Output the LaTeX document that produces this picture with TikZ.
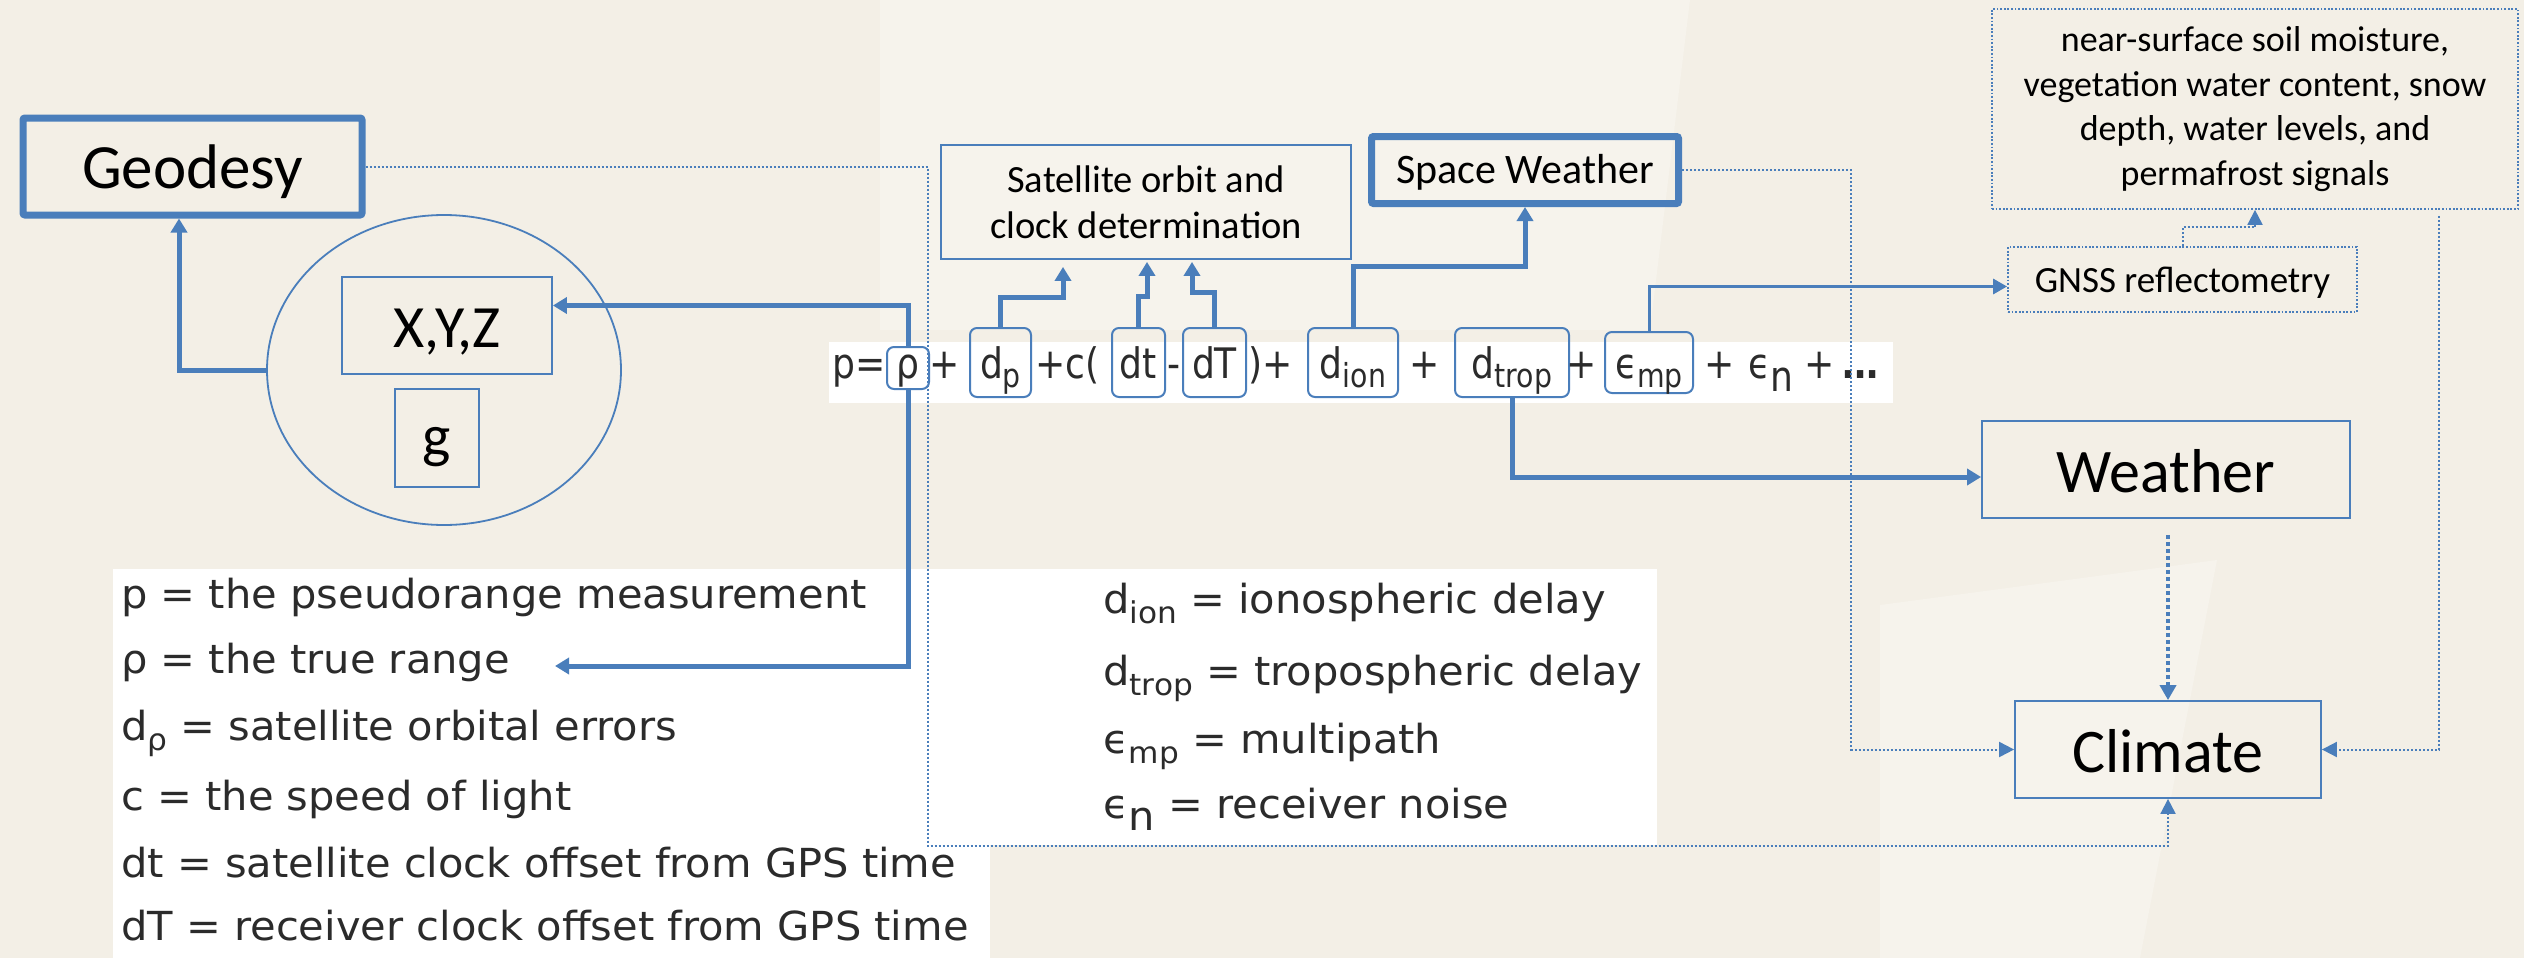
\documentclass[tikz,border=0pt]{standalone}
\usepackage{fontspec}
\setmainfont{Carlito}
\newfontfamily\eqfont[FakeStretch=0.86]{DejaVu Sans}
\newfontfamily\legfont[FakeStretch=1.04]{DejaVu Sans}
\usetikzlibrary{arrows.meta,shapes.geometric}
\definecolor{bgc}{HTML}{F3EFE6}
\definecolor{bgl}{HTML}{F6F3EC}
\definecolor{lnb}{HTML}{4A7EBB}
\definecolor{eqt}{HTML}{2B2B2B}
\newcommand\esub[1]{\raisebox{-0.22em}{\fontsize{33}{33}\selectfont #1}}
\newcommand\esubn[1]{\raisebox{-0.32em}{#1}}
\newcommand\lsub[1]{\raisebox{-0.25em}{\fontsize{30}{30}\selectfont #1}}
\tikzset{
  thickbox/.style={draw=lnb, line width=7pt, rounded corners=2pt, inner sep=0pt},
  thinbox/.style={draw=lnb, line width=1.8pt, inner sep=0pt},
  dotbox/.style={draw=lnb, line width=1.8pt, dash pattern=on 1.8pt off 1.8pt, inner sep=0pt},
  eqbox/.style={draw=lnb, line width=2pt, rounded corners=7pt, inner sep=0pt},
  eqtext/.style={inner sep=0pt, text=eqt, font=\eqfont\fontsize{42}{42}\selectfont},
  legtext/.style={inner sep=0pt, anchor=base west, text=eqt, font=\legfont\fontsize{40}{40}\selectfont},
  thickarr/.style={draw=lnb, line width=5pt, -{Triangle[length=14pt,width=16pt]}},
  medarr/.style={draw=lnb, line width=3pt, -{Triangle[length=14pt,width=15pt]}},
  dotarr/.style={draw=lnb, line width=2pt, dash pattern=on 2pt off 2pt, -{Triangle[length=15pt,width=15pt]}},
  dotarrthick/.style={draw=lnb, line width=4.5pt, dash pattern=on 4pt off 3pt, -{Triangle[length=15pt,width=16pt]}}
}
\begin{document}
\begin{tikzpicture}[x=1pt,y=-1pt]
\useasboundingbox (0,0) rectangle (2524,958);
\fill[bgc] (0,0) rectangle (2524,958);
\fill[bgl] (880,0) -- (1690,0) -- (1650,330) -- (880,330) -- cycle;
\fill[bgl] (1880,605) -- (2217,560) -- (2140,958) -- (1880,958) -- cycle;
% white panels
\fill[white] (829,342) rectangle (1893,403);
\fill[white] (113,569) rectangle (1657,845);
\fill[white] (113,845) rectangle (990,958);

% main boxes
\node[thickbox, minimum width=339pt, minimum height=97pt, text height=55pt, text depth=12pt,
      font=\fontsize{63}{63}\selectfont] (geo) at (192.5,166.5) {Geodesy};
\node[draw=lnb, line width=1.8pt, ellipse, minimum width=354pt, minimum height=310pt, inner sep=0pt] (ell) at (444,370) {};
\node[thinbox, minimum width=210pt, minimum height=97pt, text height=53pt, text depth=10pt,
      font=\fontsize{60}{60}\selectfont] (xyz) at (447,325.5) {X,Y,Z};
\node[thinbox, minimum width=84pt, minimum height=98pt, text height=48pt, text depth=12pt,
      font=\fontsize{60}{60}\selectfont] (gbox) at (437,438) {g};
\node[thinbox, minimum width=410pt, minimum height=114pt, align=center,
      font=\fontsize{38.5}{46}\selectfont] (sat) at (1146,202) {Satellite orbit and\\clock determination};
\node[thickbox, minimum width=307pt, minimum height=67pt, text height=34pt, text depth=8pt,
      font=\fontsize{42}{42}\selectfont] (sw) at (1525,170) {Space Weather};
\node[dotbox, minimum width=526pt, minimum height=200pt, align=center,
      font=\fontsize{36}{44.6}\selectfont] (ns) at (2255,109)
      {near-surface soil moisture,\\vegetation water content, snow\\depth, water levels, and\\permafrost signals};
\node[dotbox, minimum width=349pt, minimum height=65pt, text height=33pt, text depth=8pt,
      font=\fontsize{37}{37}\selectfont] (gnss) at (2182.5,279.5) {GNSS reflectometry};
\node[thinbox, minimum width=368pt, minimum height=97pt, text height=57pt, text depth=12pt,
      font=\fontsize{62}{62}\selectfont] (weather) at (2166,469.5) {Weather};
\node[thinbox, minimum width=306pt, minimum height=97pt, text height=57pt, text depth=12pt,
      font=\fontsize{62}{62}\selectfont] (climate) at (2168,749.5) {Climate};

% equation boxes
\node[eqbox, minimum width=42pt, minimum height=42pt] (rho) at (908,368) {};
\node[eqbox, minimum width=61pt, minimum height=69pt] (dp) at (1000.5,362.5) {};
\node[eqbox, minimum width=53pt, minimum height=69pt] (dt) at (1138.5,362.5) {};
\node[eqbox, minimum width=63pt, minimum height=69pt] (dT) at (1214.5,362.5) {};
\node[eqbox, minimum width=90pt, minimum height=69pt] (dion) at (1353,362.5) {};
\node[eqbox, minimum width=114pt, minimum height=69pt] (dtrop) at (1512,362.5) {};
\node[eqbox, minimum width=88pt, minimum height=61pt] (emp) at (1649,362.5) {};

% equation text
\node[eqtext, anchor=base east] (tp) at (886,378) {p=};
\node[eqtext, anchor=base] (trho) at (908,378) {ρ};
\node[eqtext, anchor=base west] (tplus1) at (929,378) {+};
\node[eqtext, anchor=base] (tdp) at (1000.5,378) {d\esub{p}};
\node[eqtext, anchor=base west] (tcpar) at (1035,378) {+c(};
\node[eqtext, anchor=base] (tdt) at (1138.5,378) {dt};
\node[eqtext, anchor=base] (tminus) at (1174,378) {-};
\node[eqtext, anchor=base] (tdT) at (1214.5,378) {dT};
\node[eqtext, anchor=base west] (tpar) at (1248,378) {)+};
\node[eqtext, anchor=base] (tdion) at (1353,378) {d\esub{ion}};
\node[eqtext, anchor=base] (tplus3) at (1425,378) {+};
\node[eqtext, anchor=base] (tdtrop) at (1512,378) {d\esub{trop}};
\node[eqtext, anchor=base] (tplus4) at (1582,378) {+};
\node[eqtext, anchor=base] (temp) at (1649,378) {ϵ\esub{mp}};
\node[eqtext, anchor=base] (tplus5) at (1720,378) {+};
\node[eqtext, anchor=base west] (ten) at (1748,378) {ϵ\esubn{n}};
\node[eqtext, anchor=base] (tplus6) at (1820,378) {+};
\node[eqtext, anchor=base west, font=\eqfont\bfseries\fontsize{42}{42}\selectfont] (tdots) at (1842,378) {…};

% legend
\node[legtext] (l1) at (121,608) {p = the pseudorange measurement};
\node[legtext] (l2) at (121,673) {ρ = the true range};
\node[legtext] (l3) at (121,740) {d\lsub{ρ} = satellite orbital errors};
\node[legtext] (l4) at (121,810) {c = the speed of light};
\node[legtext] (l5) at (121,877) {dt = satellite clock offset from GPS time};
\node[legtext] (l6) at (121,940) {dT = receiver clock offset from GPS time};
\node[legtext] (r1) at (1103,613) {d\lsub{ion} = ionospheric delay};
\node[legtext] (r2) at (1103,685) {d\lsub{trop} = tropospheric delay};
\node[legtext] (r3) at (1103,753) {ϵ\lsub{mp} = multipath};
\node[legtext] (r4) at (1103,818) {ϵ\esubn{n} = receiver noise};
\coordinate (rhotip) at (555,666);

% connectors
\draw[thickarr] (ell.west) -| ([xshift=-13.5pt]geo.south);
\draw[thickarr] (rho.north) |- ([yshift=20pt]xyz.east);
\draw[thickarr] (rho.south) |- (rhotip);
\draw[thickarr, shorten >=7pt] (dp.north) -- ++(0,-30) -| ([xshift=-83pt]sat.south);
\draw[thickarr, shorten >=2pt] (dt.north) -- ++(0,-31) -| ([xshift=1pt]sat.south);
\draw[thickarr, shorten >=2pt] (dT.north) -- ++(0,-35) -| ([xshift=46pt]sat.south);
\draw[thickarr] (dion.north) -- ++(0,-61) -| (sw.south);
\draw[thickarr] (dtrop.south) |- ([yshift=-7.5pt]weather.west);
\draw[medarr] (emp.north) |- ([yshift=-7pt]gnss.west);
\draw[dotarr] (gnss.north) -- ++(0,-19) -| (ns.south);
\draw[dotarr] (geo.east) -- ++(562,0) -- ++(0,679) -| (climate.south);
\draw[dotarr] (sw.east) -- ++(169,0) |- (climate.west);
\draw[dotarr, shorten <=6pt] ([xshift=184pt]ns.south) |- (climate.east);
\draw[dotarrthick, shorten <=16pt] (climate.north |- weather.south) -- (climate.north);
\end{tikzpicture}
\end{document}
